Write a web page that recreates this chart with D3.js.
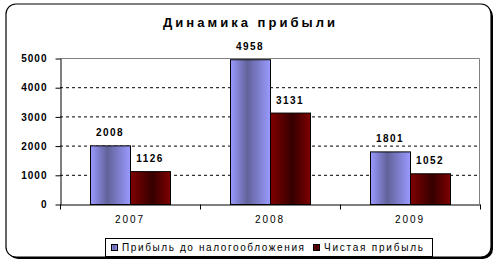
<!DOCTYPE html>
<html>
<head>
	<meta charset="utf-8">
	<title></title>
	<style>
		body { margin: 0; background: #fff; }
		text { font-family: "Liberation Sans", Arial, sans-serif; }
	</style>
</head>
<body>
	<svg id="container" height="266" width="501"></svg>
</body>
<script src="https://d3js.org/d3.v7.min.js"></script>
<script>
	let years = ["2007", "2008", "2009"]
	let seriesNames = ["Прибыль до налогообложения", "Чистая прибыль"]
	let beforeTax = [2008, 4958, 1801]
	let netProfit = [1126, 3131, 1052]
	let yTicks = [0, 1000, 2000, 3000, 4000, 5000]
	let title = "Динамика прибыли"

	let svg = d3.select("#container")

	// gradients like the old excel bars
	let defs = svg.append("defs")
	let gBlue = defs.append("linearGradient").attr("id", "gBlue")
	gBlue.append("stop").attr("offset", "0%").attr("stop-color", "#9a9aff")
	gBlue.append("stop").attr("offset", "42%").attr("stop-color", "#62629a")
	gBlue.append("stop").attr("offset", "100%").attr("stop-color", "#9a9aff")
	let gRed = defs.append("linearGradient").attr("id", "gRed")
	gRed.append("stop").attr("offset", "0%").attr("stop-color", "#800000")
	gRed.append("stop").attr("offset", "55%").attr("stop-color", "#360000")
	gRed.append("stop").attr("offset", "100%").attr("stop-color", "#800000")
	let fills = ["url(#gBlue)", "url(#gRed)"]

	// frame with shadow
	svg.append("rect").attr("x", 8).attr("y", 6).attr("width", 485).attr("height", 253)
		.attr("rx", 10).attr("fill", "#000")
	svg.append("rect").attr("x", 6).attr("y", 4).attr("width", 485).attr("height", 253)
		.attr("rx", 10).attr("fill", "#fff").attr("stroke", "#000").attr("stroke-width", 1.2)

	svg.append("text")
		.attr("x", 163).attr("y", 27)
		.attr("textLength", 172).attr("lengthAdjust", "spacing")
		.style("font-size", "13px").style("font-weight", "bold")
		.text(title)

	let pLeft = 60, pRight = 480, pTop = 58, pBottom = 204

	let x = d3.scaleBand().domain(years).range([pLeft, pRight])
	let x1 = d3.scaleBand().domain([0, 1]).range([0, 80])
	let y = d3.scaleLinear().domain([0, 5000]).range([pBottom, pTop])

	let body = svg.append("g")

	// gridlines
	body.selectAll("line.grid")
		.data(yTicks.filter(d => d > 0 && d < 5000))
		.enter().append("line")
		.attr("x1", pLeft).attr("x2", pRight)
		.attr("y1", d => y(d) + 0.5).attr("y2", d => y(d) + 0.5)
		.attr("stroke", "#000").attr("stroke-dasharray", "3,3")

	// gray plot border top/right
	body.append("path")
		.attr("d", `M${pLeft},${y(5000) + 0.5}H${pRight - 0.5}V${pBottom}`)
		.attr("fill", "none").attr("stroke", "#808080")

	let data = []
	years.forEach((yr, i) => {
		data.push({ yr: yr, s: 0, v: beforeTax[i] })
		data.push({ yr: yr, s: 1, v: netProfit[i] })
	})
	let bx = d => x(d.yr) + (x.bandwidth() - 80) / 2 + x1(d.s)

	body.selectAll("rect.bar")
		.data(data)
		.enter().append("rect")
		.attr("x", d => bx(d) + 0.5)
		.attr("y", d => y(d.v) + 0.5)
		.attr("width", x1.bandwidth())
		.attr("height", d => pBottom - y(d.v))
		.attr("fill", d => fills[d.s])
		.attr("stroke", "#000")

	body.selectAll("text.val")
		.data(data)
		.enter().append("text")
		.attr("x", d => bx(d) + x1.bandwidth() / 2)
		.attr("y", d => y(d.v) - 9)
		.attr("text-anchor", "middle")
		.style("font-size", "10px").style("font-weight", "bold")
		.style("letter-spacing", "1.5px")
		.text(d => d.v)

	// axes
	let yAxis = d3.axisLeft(y).tickValues(yTicks).tickFormat(d3.format("d"))
		.tickSize(5).tickSizeOuter(0)
	let yg = svg.append("g").attr("transform", `translate(${pLeft + 0.5},0.5)`).call(yAxis)
	yg.select(".domain").attr("stroke", "#000")
	yg.selectAll("text").attr("x", -13)
		.style("font-size", "10px").style("font-weight", "bold")
		.style("letter-spacing", "1px").attr("fill", "#000")
		.style("font-family", "'Liberation Sans', Arial, sans-serif")

	let xAxis = d3.axisBottom(x).tickSize(0).tickSizeOuter(0)
	let xg = svg.append("g").attr("transform", `translate(0,${pBottom + 0.5})`).call(xAxis)
	xg.select(".domain").attr("stroke", "#000")
	xg.selectAll("text").attr("y", 11)
		.style("font-size", "10px").style("letter-spacing", "2px").attr("fill", "#000")
		.style("font-family", "'Liberation Sans', Arial, sans-serif")
	// tick marks between categories
	xg.selectAll("line.sep")
		.data(years.map(d => x(d)).concat([pRight]))
		.enter().append("line")
		.attr("x1", d => d + 0.5).attr("x2", d => d + 0.5)
		.attr("y1", 0).attr("y2", 5)
		.attr("stroke", "#000")

	// legend
	let lg = svg.append("g")
	lg.append("rect").attr("x", 105.5).attr("y", 238.5).attr("width", 327).attr("height", 18)
		.attr("fill", "#fff").attr("stroke", "#000")
	let legX = [111, 313]
	let legW = [182, 99]
	seriesNames.forEach((n, i) => {
		lg.append("rect").attr("x", legX[i] + 0.5).attr("y", 244.5).attr("width", 6).attr("height", 6)
			.attr("fill", fills[i]).attr("stroke", "#000")
		lg.append("text").attr("x", legX[i] + 11).attr("y", 251)
			.attr("textLength", legW[i]).attr("lengthAdjust", "spacing")
			.style("font-size", "10px").text(n)
	})
</script>
</html>
